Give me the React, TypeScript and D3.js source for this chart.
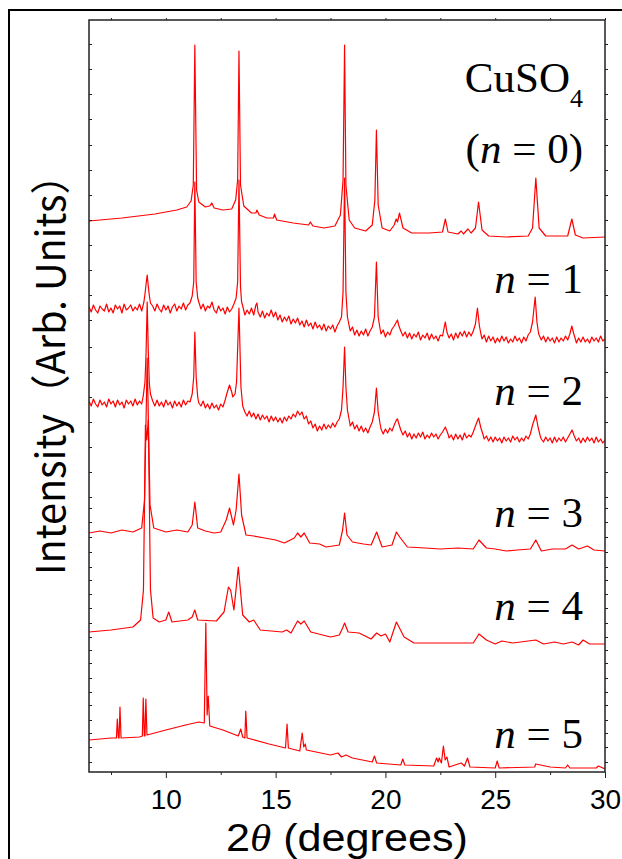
import React, { useEffect, useRef } from 'react';
import * as d3 from 'd3';

// XRD patterns, [2theta (deg), intensity (arb. units, stacked offsets already applied)]
const pattern0: [number, number][] = [
  [6.5, 551], [8.0, 554], [9.5, 558], [10.5, 562], [10.95, 565], [11.15, 571], [11.25, 587],
  [11.32, 727], [11.4, 582], [11.5, 570], [11.8, 565], [12.0, 566], [12.09, 569], [12.2, 564],
  [12.6, 562], [13.0, 563], [13.18, 572], [13.27, 592], [13.33, 721], [13.4, 587], [13.55, 566],
  [13.9, 559], [14.1, 559], [14.15, 562], [14.25, 557], [14.6, 554], [14.9, 554], [14.95, 558],
  [15.05, 552], [15.8, 549], [16.5, 547], [16.58, 550], [16.7, 546], [17.2, 544], [17.7, 546],
  [17.95, 557], [18.07, 592], [18.14, 727], [18.2, 587], [18.35, 552], [18.6, 544], [19.1, 541],
  [19.4, 547], [19.52, 572], [19.59, 642], [19.67, 567], [19.85, 544], [20.2, 541], [20.4, 547],
  [20.49, 553], [20.55, 550], [20.64, 559], [20.8, 544], [21.2, 539], [22.0, 539], [22.6, 540],
  [22.73, 553], [22.85, 540], [23.3, 538], [23.45, 541], [23.55, 538], [23.76, 543], [23.9, 539],
  [24.1, 544], [24.24, 570], [24.4, 542], [24.7, 536], [25.5, 535], [26.5, 536], [26.7, 544],
  [26.85, 594], [27.0, 544], [27.3, 536], [28.3, 536], [28.49, 553], [28.65, 537], [29.0, 534],
  [30.0, 535],
];

const pattern1: [number, number][] = [
  [6.5, 465], [6.6, 460], [6.7, 467], [6.8, 462], [6.9, 459], [7.0, 466], [7.1, 463], [7.2, 461],
  [7.3, 468], [7.4, 460], [7.5, 464], [7.6, 459], [7.7, 467], [7.8, 463], [7.9, 466], [8.0, 459],
  [8.1, 468], [8.2, 462], [8.3, 464], [8.4, 467], [8.5, 461], [8.6, 465], [8.7, 462], [8.8, 468],
  [8.9, 461], [9.0, 470], [9.05, 478], [9.1, 488], [9.15, 497], [9.2, 486], [9.25, 476],
  [9.3, 469], [9.4, 466], [9.5, 461], [9.6, 468], [9.7, 463], [9.8, 460], [9.9, 467], [10.0, 462],
  [10.1, 466], [10.2, 459], [10.3, 465], [10.4, 468], [10.5, 461], [10.6, 466], [10.7, 463],
  [10.8, 469], [10.9, 462], [11.0, 467], [11.1, 469], [11.2, 476], [11.27, 490], [11.32, 590],
  [11.38, 490], [11.45, 474], [11.5, 470], [11.6, 463], [11.7, 468], [11.8, 461], [11.9, 466],
  [12.0, 464], [12.1, 470], [12.2, 462], [12.3, 459], [12.4, 466], [12.5, 461], [12.6, 464],
  [12.7, 458], [12.8, 465], [12.9, 460], [13.0, 463], [13.1, 468], [13.2, 474], [13.27, 490],
  [13.33, 592], [13.4, 485], [13.45, 470], [13.5, 466], [13.6, 457], [13.7, 462], [13.8, 458],
  [13.9, 464], [14.0, 457], [14.1, 467], [14.15, 469], [14.2, 460], [14.3, 455], [14.4, 461],
  [14.5, 454], [14.6, 459], [14.7, 456], [14.8, 462], [14.9, 455], [15.0, 460], [15.1, 452],
  [15.2, 457], [15.3, 450], [15.4, 455], [15.5, 451], [15.6, 456], [15.7, 448], [15.8, 453],
  [15.9, 449], [16.0, 454], [16.1, 447], [16.2, 451], [16.3, 445], [16.4, 452], [16.5, 446],
  [16.6, 449], [16.7, 443], [16.8, 450], [16.9, 444], [17.0, 447], [17.1, 442], [17.2, 448],
  [17.3, 441], [17.4, 446], [17.5, 443], [17.6, 447], [17.7, 440], [17.8, 446], [17.9, 450],
  [18.0, 455], [18.07, 480], [18.14, 594], [18.2, 480], [18.27, 455], [18.35, 446], [18.4, 441],
  [18.5, 445], [18.6, 437], [18.7, 442], [18.8, 436], [18.9, 441], [19.0, 437], [19.1, 443],
  [19.2, 436], [19.3, 441], [19.4, 445], [19.5, 455], [19.59, 510], [19.67, 455], [19.75, 444],
  [19.8, 438], [19.9, 442], [20.0, 435], [20.1, 440], [20.2, 437], [20.3, 443], [20.4, 446],
  [20.5, 450], [20.55, 452], [20.6, 447], [20.7, 441], [20.8, 436], [20.9, 440], [21.0, 434],
  [21.1, 439], [21.2, 433], [21.3, 438], [21.4, 435], [21.5, 440], [21.6, 432], [21.7, 437],
  [21.8, 434], [21.9, 439], [22.0, 432], [22.1, 438], [22.2, 433], [22.3, 436], [22.4, 431],
  [22.5, 437], [22.6, 436], [22.68, 445], [22.73, 450], [22.8, 440], [22.9, 434], [23.0, 438],
  [23.1, 432], [23.2, 439], [23.3, 434], [23.4, 440], [23.5, 436], [23.6, 441], [23.7, 435],
  [23.8, 440], [23.9, 436], [24.0, 441], [24.1, 448], [24.19, 464], [24.28, 446], [24.35, 438],
  [24.4, 433], [24.5, 437], [24.6, 430], [24.7, 436], [24.8, 431], [24.9, 435], [25.0, 429],
  [25.1, 434], [25.2, 430], [25.3, 436], [25.4, 431], [25.5, 435], [25.6, 429], [25.7, 433],
  [25.8, 430], [25.9, 436], [26.0, 431], [26.1, 434], [26.2, 429], [26.3, 435], [26.4, 431],
  [26.5, 437], [26.6, 440], [26.7, 450], [26.82, 475], [26.9, 450], [26.98, 438], [27.1, 432],
  [27.2, 436], [27.3, 430], [27.4, 435], [27.5, 431], [27.6, 434], [27.7, 429], [27.8, 435],
  [27.9, 430], [28.0, 434], [28.1, 431], [28.2, 436], [28.3, 432], [28.4, 438], [28.49, 446],
  [28.58, 438], [28.65, 433], [28.7, 429], [28.8, 434], [28.9, 430], [29.0, 435], [29.1, 430],
  [29.2, 433], [29.3, 429], [29.4, 435], [29.5, 431], [29.6, 434], [29.7, 430], [29.8, 436],
  [29.9, 431], [30.0, 433],
];

const pattern2: [number, number][] = [
  [6.5, 371], [6.6, 366], [6.7, 373], [6.8, 368], [6.9, 365], [7.0, 372], [7.1, 367], [7.2, 370],
  [7.3, 365], [7.4, 373], [7.5, 368], [7.6, 371], [7.7, 365], [7.8, 372], [7.9, 367], [8.0, 370],
  [8.1, 364], [8.2, 372], [8.3, 368], [8.4, 371], [8.5, 366], [8.6, 373], [8.7, 367], [8.8, 371],
  [8.9, 368], [8.97, 376], [9.05, 390], [9.1, 420], [9.15, 470], [9.2, 420], [9.25, 388],
  [9.3, 378], [9.4, 371], [9.5, 366], [9.6, 372], [9.7, 366], [9.8, 370], [9.9, 365], [10.0, 372],
  [10.1, 367], [10.2, 370], [10.3, 364], [10.4, 371], [10.5, 366], [10.6, 370], [10.7, 365],
  [10.8, 372], [10.9, 367], [11.0, 371], [11.1, 370], [11.2, 378], [11.27, 395], [11.32, 440],
  [11.38, 395], [11.45, 375], [11.5, 369], [11.6, 366], [11.7, 371], [11.8, 364], [11.9, 368],
  [12.0, 363], [12.1, 369], [12.2, 364], [12.3, 367], [12.4, 362], [12.5, 368], [12.6, 365],
  [12.7, 372], [12.8, 380], [12.9, 387], [13.0, 380], [13.05, 375], [13.15, 378], [13.22, 390],
  [13.33, 464], [13.42, 385], [13.5, 366], [13.6, 360], [13.7, 356], [13.8, 361], [13.9, 355],
  [14.0, 359], [14.1, 353], [14.2, 358], [14.3, 352], [14.4, 357], [14.5, 353], [14.6, 356],
  [14.7, 350], [14.8, 356], [14.9, 351], [15.0, 355], [15.1, 350], [15.2, 354], [15.3, 349],
  [15.4, 355], [15.5, 351], [15.6, 356], [15.7, 353], [15.8, 358], [15.9, 355], [16.0, 361],
  [16.1, 357], [16.2, 360], [16.3, 353], [16.4, 356], [16.5, 348], [16.6, 351], [16.7, 344],
  [16.8, 348], [16.9, 341], [17.0, 346], [17.1, 342], [17.2, 348], [17.3, 343], [17.4, 347],
  [17.5, 344], [17.6, 349], [17.7, 345], [17.8, 350], [17.9, 353], [18.0, 362], [18.07, 385],
  [18.14, 425], [18.2, 385], [18.27, 362], [18.35, 352], [18.4, 346], [18.5, 350], [18.6, 343],
  [18.7, 347], [18.8, 341], [18.9, 346], [19.0, 340], [19.1, 344], [19.2, 339], [19.3, 345],
  [19.4, 350], [19.5, 360], [19.59, 384], [19.67, 360], [19.75, 349], [19.8, 343], [19.9, 338],
  [20.0, 343], [20.1, 339], [20.2, 344], [20.3, 341], [20.4, 347], [20.5, 352], [20.55, 353],
  [20.6, 349], [20.7, 342], [20.8, 337], [20.9, 341], [21.0, 335], [21.1, 339], [21.2, 333],
  [21.3, 338], [21.4, 334], [21.5, 339], [21.6, 335], [21.7, 340], [21.8, 333], [21.9, 337],
  [22.0, 334], [22.1, 339], [22.2, 335], [22.3, 338], [22.4, 333], [22.5, 337], [22.6, 340],
  [22.73, 345], [22.85, 338], [22.9, 334], [23.0, 337], [23.1, 332], [23.2, 338], [23.3, 333],
  [23.4, 337], [23.5, 332], [23.6, 339], [23.7, 334], [23.8, 337], [23.9, 335], [24.0, 340],
  [24.1, 346], [24.24, 354], [24.35, 344], [24.45, 337], [24.5, 333], [24.6, 336], [24.7, 331],
  [24.8, 335], [24.9, 330], [25.0, 335], [25.1, 331], [25.2, 334], [25.3, 329], [25.4, 335],
  [25.5, 331], [25.6, 334], [25.7, 330], [25.8, 336], [25.9, 332], [26.0, 335], [26.1, 330],
  [26.2, 334], [26.3, 331], [26.4, 336], [26.5, 333], [26.6, 338], [26.7, 347], [26.85, 357],
  [26.95, 345], [27.05, 336], [27.1, 333], [27.2, 330], [27.3, 335], [27.4, 331], [27.5, 334],
  [27.6, 329], [27.7, 335], [27.8, 330], [27.9, 334], [28.0, 331], [28.1, 335], [28.2, 330],
  [28.3, 334], [28.4, 338], [28.5, 342], [28.6, 336], [28.7, 331], [28.8, 334], [28.9, 329],
  [29.0, 334], [29.1, 330], [29.2, 335], [29.3, 331], [29.4, 334], [29.5, 329], [29.6, 335],
  [29.7, 330], [29.8, 333], [29.9, 329], [30.0, 332],
];

const pattern3: [number, number][] = [
  [6.5, 239], [7.0, 241], [7.5, 239], [8.0, 242], [8.5, 240], [8.9, 244], [9.03, 272], [9.15, 414],
  [9.28, 267], [9.45, 244], [10.0, 240], [10.5, 242], [11.0, 240], [11.2, 247], [11.32, 270],
  [11.45, 244], [11.8, 241], [12.2, 239], [12.5, 240], [12.75, 252], [12.9, 264], [13.08, 247],
  [13.2, 262], [13.33, 298], [13.45, 257], [13.65, 237], [14.0, 236], [14.5, 234], [15.0, 232],
  [15.4, 229], [15.85, 234], [16.0, 239], [16.15, 235], [16.3, 239], [16.55, 229], [17.0, 228],
  [17.3, 225], [17.9, 227], [18.05, 242], [18.14, 259], [18.25, 237], [18.5, 230], [19.0, 228],
  [19.35, 227], [19.6, 240], [19.85, 225], [20.3, 227], [20.5, 240], [20.65, 235], [21.0, 225],
  [21.8, 224], [22.5, 223], [23.3, 224], [24.0, 223], [24.26, 232], [24.6, 224], [25.0, 223],
  [25.5, 221], [26.0, 222], [26.6, 223], [26.85, 232], [27.1, 221], [27.6, 223], [28.2, 223],
  [28.5, 227], [28.8, 223], [29.2, 226], [29.5, 222], [30.0, 221],
];

const pattern4: [number, number][] = [
  [6.5, 140], [7.5, 142], [8.5, 145], [8.85, 152], [8.98, 182], [9.07, 347], [9.13, 332],
  [9.2, 352], [9.3, 182], [9.42, 154], [9.7, 150], [10.0, 152], [10.13, 160], [10.28, 150],
  [11.0, 152], [11.2, 155], [11.32, 162], [11.45, 152], [12.3, 151], [12.65, 160], [12.85, 185],
  [12.95, 182], [13.1, 162], [13.3, 205], [13.5, 157], [13.8, 150], [14.0, 152], [14.3, 142],
  [15.3, 140], [15.5, 142], [15.7, 139], [16.0, 151], [16.15, 148], [16.3, 151], [16.6, 140],
  [17.5, 135], [17.9, 137], [18.05, 144], [18.14, 149], [18.3, 140], [18.8, 139], [19.35, 133],
  [19.6, 139], [19.8, 136], [20.0, 138], [20.2, 130], [20.5, 150], [20.85, 135], [21.3, 129],
  [24.0, 129], [24.26, 138], [24.6, 132], [25.0, 128], [25.3, 131], [25.8, 129], [26.85, 132],
  [27.2, 128], [27.7, 130], [28.1, 128], [28.5, 130], [28.8, 127], [29.0, 132], [29.3, 128],
  [30.0, 128],
];

const pattern5: [number, number][] = [
  [6.5, 32], [7.5, 34], [7.75, 34], [7.79, 53], [7.84, 34], [7.87, 34], [7.91, 65], [7.96, 34],
  [8.8, 35], [8.93, 36], [8.97, 74], [9.02, 36], [9.05, 36], [9.09, 73], [9.14, 37], [10.0, 42],
  [10.9, 47], [11.5, 50], [11.75, 49], [11.82, 149], [11.88, 57], [11.93, 76], [12.0, 46],
  [12.6, 42], [13.3, 36], [13.41, 43], [13.5, 35], [13.6, 34], [13.64, 61], [13.7, 34],
  [14.7, 28], [15.45, 24], [15.52, 48], [15.58, 24], [16.1, 21], [16.21, 39], [16.28, 25],
  [16.35, 28], [16.4, 22], [17.5, 17], [17.84, 19], [18.0, 15], [18.2, 17], [18.5, 14],
  [19.4, 10], [19.5, 16], [19.6, 9], [20.7, 7], [20.79, 13], [20.88, 7], [22.2, 6], [22.33, 14],
  [22.4, 10], [22.45, 14], [22.55, 9], [22.64, 26], [22.72, 12], [22.8, 15], [22.9, 5],
  [23.45, 9], [23.6, 6], [23.74, 14], [23.85, 5], [25.0, 4], [25.09, 11], [25.18, 4], [26.8, 5],
  [26.84, 8], [27.5, 5], [28.2, 4], [28.3, 7], [28.4, 4], [29.6, 4], [29.7, 6], [30.0, 3],
];

const patterns = [pattern0, pattern1, pattern2, pattern3, pattern4, pattern5];
const nValues = ['0', '1', '2', '3', '4', '5'];

const xMajorTicks = [10, 15, 20, 25, 30];
const xMinorTicks = [7.5, 12.5, 17.5, 22.5, 27.5];
const yTicks = [
  728, 703, 678, 653, 627, 602, 577, 552, 527, 502, 477, 452, 425, 400, 375, 350, 325, 300, 275,
  264, 250, 235, 220, 205, 192, 178, 164, 149, 135, 122, 109, 94, 80, 67, 52, 39, 25, 10,
];

// label baselines in pixels (layout only)
const labelBaselines = [163, 293, 405, 527, 620, 748];

const W = 622;
const H = 859;
const margin = { top: 20, right: 17, bottom: 87, left: 89 };

const App = () => {
  const ref = useRef<SVGSVGElement>(null);

  useEffect(() => {
    const svg = d3.select(ref.current);
    svg.selectAll('*').remove();

    const x = d3.scaleLinear().domain([6.5, 30]).range([margin.left, W - margin.right]);
    const y = d3.scaleLinear().domain([0, 752]).range([H - margin.bottom, margin.top]);
    const x0 = margin.left, x1 = W - margin.right, y0 = margin.top, y1 = H - margin.bottom;

    svg.append('rect').attr('width', W).attr('height', H).attr('fill', '#fff');

    // outer frame
    svg.append('rect')
      .attr('x', 9).attr('y', 10).attr('width', 700).attr('height', 900)
      .attr('fill', 'none').attr('stroke', '#000').attr('stroke-width', 2);

    svg.append('clipPath').attr('id', 'plotclip')
      .append('rect').attr('x', x0).attr('y', y0).attr('width', x1 - x0).attr('height', y1 - y0);

    const line = d3.line<[number, number]>()
      .x(d => x(d[0]))
      .y(d => y(d[1]));

    const g = svg.append('g').attr('clip-path', 'url(#plotclip)');
    patterns.forEach(p => {
      g.append('path')
        .datum(p)
        .attr('fill', 'none')
        .attr('stroke', '#ff0000')
        .attr('stroke-width', 1.2)
        .attr('stroke-linejoin', 'round')
        .attr('d', line);
    });

    // axes
    const sans = '"Liberation Sans", Arial, sans-serif';
    const bottom = svg.append('g').attr('transform', `translate(0,${y1})`);
    bottom.call(d3.axisBottom(x).tickValues(xMinorTicks).tickSize(3).tickFormat(() => ''));
    const bottomMajor = svg.append('g').attr('transform', `translate(0,${y1})`);
    bottomMajor.call(d3.axisBottom(x).tickValues(xMajorTicks).tickSize(6).tickPadding(11).tickFormat(d3.format('d')));
    bottomMajor.selectAll('text')
      .attr('font-family', sans)
      .attr('font-size', 28)
      .attr('fill', '#000');

    const top = svg.append('g').attr('transform', `translate(0,${y0})`);
    top.call(d3.axisTop(x).tickValues([...xMinorTicks, ...xMajorTicks]).tickSize(2).tickFormat(() => ''));

    const left = svg.append('g').attr('transform', `translate(${x0},0)`);
    left.call(d3.axisRight(y).tickValues(yTicks).tickSize(3).tickFormat(() => ''));
    const right = svg.append('g').attr('transform', `translate(${x1},0)`);
    right.call(d3.axisRight(y).tickValues(yTicks).tickSize(3).tickFormat(() => ''));

    svg.selectAll('.domain').remove();
    svg.selectAll('.tick line').attr('stroke', '#222').attr('stroke-width', 1);

    svg.append('rect')
      .attr('x', x0).attr('y', y0).attr('width', x1 - x0).attr('height', y1 - y0)
      .attr('fill', 'none').attr('stroke', '#222').attr('stroke-width', 1.5);

    // axis titles
    svg.append('text')
      .attr('transform', `translate(65,365) rotate(-90)`)
      .attr('text-anchor', 'middle')
      .attr('font-family', '"Noto Sans CJK JP", sans-serif')
      .attr('font-size', 40)
      .attr('textLength', 420)
      .attr('lengthAdjust', 'spacingAndGlyphs')
      .text('Intensity（Arb. Units）');

    const xt = svg.append('text')
      .attr('x', 226).attr('y', 851)
      .attr('font-family', sans)
      .attr('font-size', 38)
      .attr('textLength', 242)
      .attr('lengthAdjust', 'spacingAndGlyphs');
    xt.append('tspan').text('2');
    xt.append('tspan')
      .attr('font-family', '"Liberation Serif", serif')
      .attr('font-style', 'italic')
      .text('θ');
    xt.append('tspan').text(' (degrees)');

    // series labels
    const serif = '"Liberation Serif", "Times New Roman", serif';
    const cu = svg.append('text')
      .attr('x', 583).attr('y', 92)
      .attr('text-anchor', 'end')
      .attr('font-family', serif)
      .attr('font-size', 43);
    cu.append('tspan').text('CuSO');
    cu.append('tspan').attr('dy', 15).attr('font-size', 26).text('4');

    nValues.forEach((n, i) => {
      const t = svg.append('text')
        .attr('x', 583).attr('y', labelBaselines[i])
        .attr('text-anchor', 'end')
        .attr('font-family', serif)
        .attr('font-size', 43);
      if (i === 0) t.append('tspan').text('(');
      t.append('tspan').attr('font-style', 'italic').text('n');
      t.append('tspan').text(` = ${n}`);
      if (i === 0) t.append('tspan').text(')');
    });
  }, []);

  return (
    <svg
      ref={ref}
      width={W}
      height={H}
      viewBox={`0 0 ${W} ${H}`}
      style={{ position: 'absolute', left: 0, top: 0 }}
    />
  );
};

export default App;
